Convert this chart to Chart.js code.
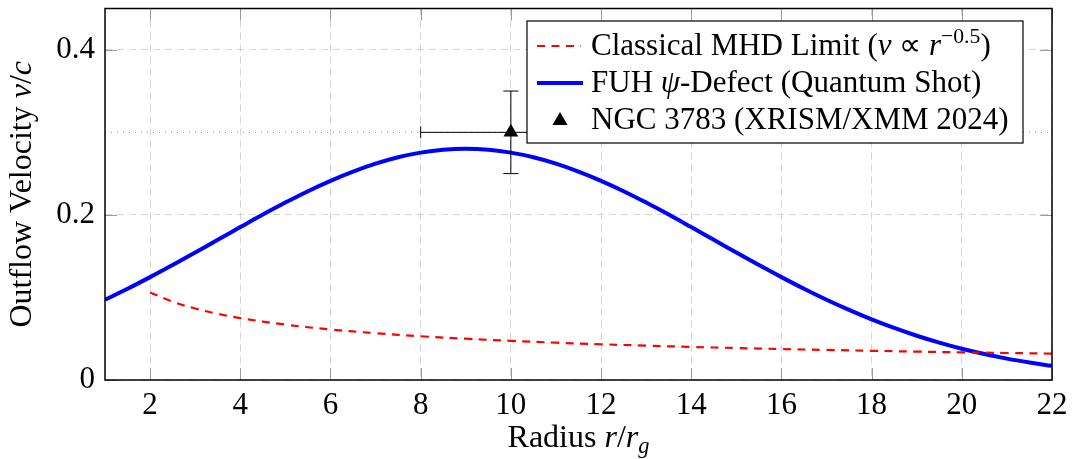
<!DOCTYPE html>
<html>
<head>
<meta charset="utf-8">
<script src="https://cdn.jsdelivr.net/npm/chart.js@4"></script>
<style>
  html, body { margin: 0; padding: 0; background: #fff; }
  #wrap { width: 1072px; height: 459px; }
</style>
</head>
<body>
<div id="wrap"><canvas id="chart" width="1072" height="459"></canvas></div>
<script>
// radius r/r_g
const radius = [1, 1.5, 2, 2.5, 3, 3.5, 4, 4.5, 5, 5.5, 6, 6.5, 7, 7.5, 8, 8.5, 9, 9.5, 10, 10.5, 11, 11.5,
                12, 12.5, 13, 13.5, 14, 14.5, 15, 15.5, 16, 16.5, 17, 17.5, 18, 18.5, 19, 19.5, 20, 20.5, 21, 21.5, 22];
// FUH psi-defect curve
const fuhVel = [0.0972, 0.1105, 0.1246, 0.1393, 0.1544, 0.1698, 0.1852, 0.2004, 0.2149, 0.2287, 0.2413, 0.2525,
                0.2621, 0.2698, 0.2754, 0.2788, 0.2800, 0.2788, 0.2754, 0.2698, 0.2621, 0.2525, 0.2413, 0.2287,
                0.2149, 0.2004, 0.1852, 0.1698, 0.1544, 0.1393, 0.1246, 0.1105, 0.0972, 0.0849, 0.0734, 0.0630,
                0.0536, 0.0453, 0.0379, 0.0315, 0.0259, 0.0212, 0.0171];
// classical MHD limit, starts at r = 2
const mhdRadius = [2, 2.5, 3, 3.5, 4, 5, 6, 7, 8, 9, 10, 11, 12, 13, 14, 15, 16, 17, 18, 19, 20, 21, 22];
const mhdVel = [0.1061, 0.0949, 0.0866, 0.0802, 0.0750, 0.0671, 0.0612, 0.0567, 0.0530, 0.0500, 0.0474, 0.0452,
                0.0433, 0.0416, 0.0401, 0.0387, 0.0375, 0.0364, 0.0354, 0.0344, 0.0335, 0.0327, 0.0320];
// NGC 3783 observation
const obsR = [10];
const obsV = [0.30];
const obsErrR = [2];
const obsErrV = [0.05];
const refLevel = 0.30;

const xTicks = [2, 4, 6, 8, 10, 12, 14, 16, 18, 20, 22];
const yTicks = [0, 0.2, 0.4];

const FONT = "'Liberation Serif', 'Times New Roman', serif";
const FS = 31;

// draw a line of text made of parts (italic / superscript / subscript)
function richWidth(ctx, parts, size) {
    let w = 0;
    parts.forEach(p => {
        const s = (p.sup || p.sub) ? size * 0.7 : size;
        ctx.font = (p.it ? 'italic ' : '') + s + 'px ' + FONT;
        w += ctx.measureText(p.t).width;
    });
    return w;
}
function drawRich(ctx, parts, x, y, size) {
    ctx.textBaseline = 'alphabetic';
    ctx.textAlign = 'left';
    parts.forEach(p => {
        const s = (p.sup || p.sub) ? size * 0.7 : size;
        ctx.font = (p.it ? 'italic ' : '') + s + 'px ' + FONT;
        let dy = 0;
        if (p.sup) dy = -size * 0.38;
        if (p.sub) dy = size * 0.2;
        ctx.fillText(p.t, x, y + dy);
        x += ctx.measureText(p.t).width;
    });
}

const legendRows = [
    { kind: 'dash', parts: [{ t: 'Classical MHD Limit (' }, { t: 'v', it: true }, { t: ' \u221D ' }, { t: 'r', it: true }, { t: '\u22120.5', sup: true }, { t: ')' }] },
    { kind: 'line', parts: [{ t: 'FUH ' }, { t: '\u03C8', it: true }, { t: '-Defect (Quantum Shot)' }] },
    { kind: 'tri', parts: [{ t: 'NGC 3783 (XRISM/XMM 2024)' }] }
];

const decor = {
    id: 'decor',
    beforeDatasetsDraw(chart) {
        const { ctx, chartArea: a, scales: { x, y } } = chart;
        ctx.save();
        ctx.strokeStyle = '#9a9a9a';
        ctx.lineWidth = 1;
        ctx.beginPath();
        xTicks.forEach(v => {
            const px = Math.round(x.getPixelForValue(v)) + 0.5;
            ctx.moveTo(px, a.bottom); ctx.lineTo(px, a.bottom - 12);
            ctx.moveTo(px, a.top); ctx.lineTo(px, a.top + 12);
        });
        yTicks.forEach(v => {
            const py = Math.round(y.getPixelForValue(v)) + 0.5;
            ctx.moveTo(a.left, py); ctx.lineTo(a.left + 12, py);
            ctx.moveTo(a.right, py); ctx.lineTo(a.right - 12, py);
        });
        ctx.stroke();
        ctx.restore();
    },
    afterDatasetsDraw(chart) {
        const { ctx, chartArea: a, scales: { x, y } } = chart;
        ctx.save();
        // error bars
        ctx.strokeStyle = '#000';
        ctx.lineWidth = 1;
        obsR.forEach((r, i) => {
            const cx = x.getPixelForValue(r), cy = y.getPixelForValue(obsV[i]);
            const x0 = x.getPixelForValue(r - obsErrR[i]), x1 = x.getPixelForValue(r + obsErrR[i]);
            const y0 = y.getPixelForValue(obsV[i] - obsErrV[i]), y1 = y.getPixelForValue(obsV[i] + obsErrV[i]);
            ctx.beginPath();
            ctx.moveTo(x0, cy); ctx.lineTo(x1, cy);
            ctx.moveTo(x0, cy - 6); ctx.lineTo(x0, cy + 6);
            ctx.moveTo(x1, cy - 6); ctx.lineTo(x1, cy + 6);
            ctx.moveTo(cx, y0); ctx.lineTo(cx, y1);
            ctx.moveTo(cx - 7.5, y0); ctx.lineTo(cx + 7.5, y0);
            ctx.moveTo(cx - 7.5, y1); ctx.lineTo(cx + 7.5, y1);
            ctx.stroke();
        });
        // frame
        ctx.strokeStyle = '#000';
        ctx.lineWidth = 1.5;
        ctx.strokeRect(a.left, a.top, a.right - a.left, a.bottom - a.top);

        // legend
        const bx = 527, by = 21, bw = 496, bh = 122;
        ctx.fillStyle = '#fff';
        ctx.fillRect(bx, by, bw, bh);
        ctx.lineWidth = 1.2;
        ctx.strokeRect(bx, by, bw, bh);
        legendRows.forEach((row, i) => {
            const base = 55 + i * 37;
            const my = base - 9;
            if (row.kind === 'dash') {
                ctx.strokeStyle = '#ff0000'; ctx.lineWidth = 2.2; ctx.setLineDash([8, 6.5]);
                ctx.beginPath(); ctx.moveTo(537, my); ctx.lineTo(581, my); ctx.stroke();
                ctx.setLineDash([]);
            } else if (row.kind === 'line') {
                ctx.strokeStyle = '#0000ff'; ctx.lineWidth = 4;
                ctx.beginPath(); ctx.moveTo(537, my); ctx.lineTo(583, my); ctx.stroke();
            } else {
                ctx.fillStyle = '#000';
                ctx.beginPath(); ctx.moveTo(560, my - 8); ctx.lineTo(567.5, my + 5); ctx.lineTo(552.5, my + 5); ctx.closePath(); ctx.fill();
            }
            ctx.fillStyle = '#000';
            drawRich(ctx, row.parts, 591, base, FS);
        });

        // axis titles
        const xt = [{ t: 'Radius ' }, { t: 'r', it: true }, { t: '/' }, { t: 'r', it: true }, { t: 'g', it: true, sub: true }];
        const xw = richWidth(ctx, xt, 32);
        drawRich(ctx, xt, (a.left + a.right) / 2 - xw / 2, 447, 32);

        const yt = [{ t: 'Outflow Velocity ' }, { t: 'v', it: true }, { t: '/' }, { t: 'c', it: true }];
        const yw = richWidth(ctx, yt, 32);
        ctx.translate(31, (a.top + a.bottom) / 2);
        ctx.rotate(-Math.PI / 2);
        drawRich(ctx, yt, -yw / 2, 0, 32);
        ctx.restore();
    }
};

new Chart(document.getElementById('chart'), {
    type: 'scatter',
    data: {
        datasets: [
            {
                label: 'ref',
                data: [{ x: 1, y: refLevel }, { x: 22, y: refLevel }],
                showLine: true, borderColor: '#8a8a8a', borderWidth: 1, borderDash: [1, 5],
                pointRadius: 0
            },
            {
                label: 'Classical MHD Limit',
                data: mhdRadius.map((r, i) => ({ x: r, y: mhdVel[i] })),
                showLine: true, borderColor: '#ff0000', borderWidth: 2.2, borderDash: [8, 6.5],
                pointRadius: 0, tension: 0.4
            },
            {
                label: 'FUH psi-Defect',
                data: radius.map((r, i) => ({ x: r, y: fuhVel[i] })),
                showLine: true, borderColor: '#0000ff', borderWidth: 4,
                pointRadius: 0, tension: 0.4
            },
            {
                label: 'NGC 3783',
                data: obsR.map((r, i) => ({ x: r, y: obsV[i] })),
                pointStyle: 'triangle', pointRadius: 8.5, backgroundColor: '#000', borderColor: '#000', borderWidth: 0
            }
        ]
    },
    options: {
        responsive: false,
        animation: false,
        layout: { padding: { left: 0, top: 8, right: 20, bottom: 0 } },
        plugins: { legend: { display: false }, tooltip: { enabled: false } },
        scales: {
            x: {
                type: 'linear', min: 1, max: 22,
                afterBuildTicks: s => { s.ticks = xTicks.map(v => ({ value: v })); },
                afterFit: s => { s.height = 79; s.paddingLeft = 0; s.paddingRight = 0; },
                grid: { color: '#d4d4d4', lineWidth: 1, drawTicks: false },
                border: { display: false, dash: [7, 5] },
                ticks: { color: '#000', padding: 7, maxRotation: 0, font: { family: FONT, size: 31 } }
            },
            y: {
                type: 'linear', min: 0, max: 0.45,
                afterBuildTicks: s => { s.ticks = yTicks.map(v => ({ value: v })); },
                afterFit: s => { s.width = 105; s.paddingTop = 0; s.paddingBottom = 0; },
                grid: { color: '#d4d4d4', lineWidth: 1, drawTicks: false },
                border: { display: false, dash: [7, 5] },
                ticks: { color: '#000', padding: 10, callback: v => String(v), font: { family: FONT, size: 31 } }
            }
        }
    },
    plugins: [decor]
});
</script>
</body>
</html>
